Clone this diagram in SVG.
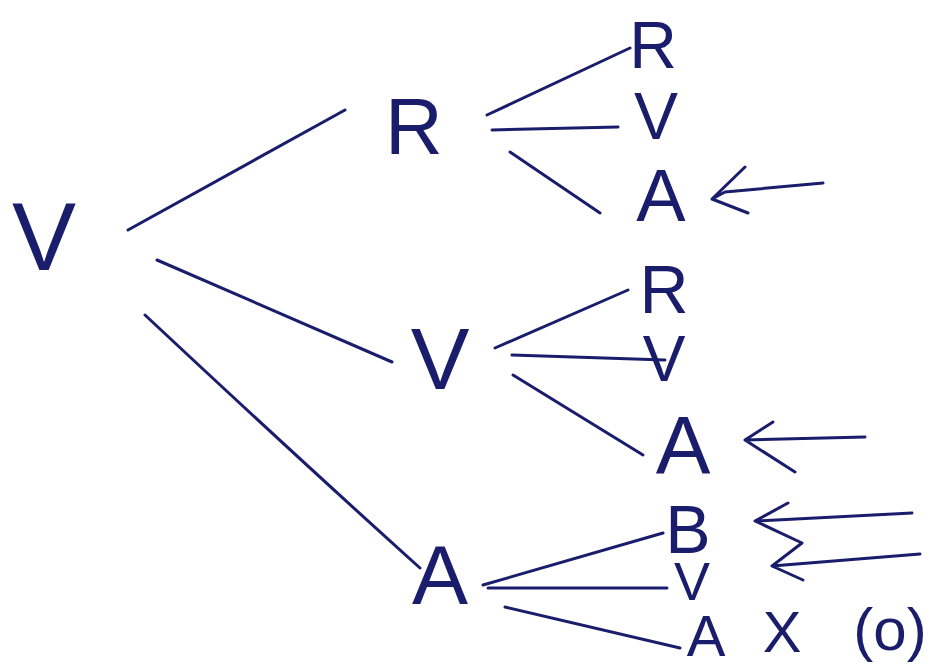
<svg xmlns="http://www.w3.org/2000/svg" width="939" height="669" viewBox="0 0 939 669">
<style>
.t{font-family:"Liberation Sans","DejaVu Sans",sans-serif;fill:#1a1d6b;text-anchor:middle;font-weight:normal}
.c{stroke:#1a1d6b;stroke-width:3;fill:none;stroke-linecap:round;stroke-linejoin:round}
</style>
<rect width="939" height="669" fill="#ffffff"/>
<g id="connectors">
<path class="c" d="M128,230 L345,110"/>
<path class="c" d="M157,260 L392,362"/>
<path class="c" d="M145,315 Q300,460 420,568"/>
<path class="c" d="M487,115 L630,48"/>
<path class="c" d="M492,130 L618,127"/>
<path class="c" d="M510,152 L600,213"/>
<path class="c" d="M495,348 L628,290"/>
<path class="c" d="M512,355 L665,360"/>
<path class="c" d="M513,375 L643,455"/>
<path class="c" d="M483,585 L663,533"/>
<path class="c" d="M488,588 L667,588"/>
<path class="c" d="M505,607 L680,648"/>
<path class="c" d="M823,183 L725,192 L712,199 M745,167 L712,199 L748,213"/>
<path class="c" d="M865,437 L745,440 M773,422 L745,440 L795,472"/>
<path class="c" d="M912,513 L755,521 M788,503 L755,521 L802,543 L772,566 L803,580 M772,566 L920,554"/>
</g>
<g id="n-root"><text class="t" x="44" y="270" font-size="96">V</text></g>
<g id="n-r1"><text class="t" x="414" y="154" font-size="80">R</text></g>
<g id="n-v1"><text class="t" x="440" y="389" font-size="88">V</text></g>
<g id="n-a1"><text class="t" x="440" y="604" font-size="84">A</text></g>
<g id="n-rr"><text class="t" x="653" y="68" font-size="66">R</text></g>
<g id="n-rv"><text class="t" x="656" y="139" font-size="66">V</text></g>
<g id="n-ra"><text class="t" x="661" y="221" font-size="74">A</text></g>
<g id="n-vr"><text class="t" x="664" y="313" font-size="68">R</text></g>
<g id="n-vv"><text class="t" x="664" y="381" font-size="64">V</text></g>
<g id="n-va"><text class="t" x="683" y="473" font-size="82">A</text></g>
<g id="n-ab"><text class="t" x="688" y="553" font-size="68">B</text></g>
<g id="n-av"><text class="t" x="692" y="600" font-size="54">V</text></g>
<g id="n-aa"><text class="t" x="706" y="656" font-size="58">A</text></g>
<g id="n-x"><text class="t" x="782" y="652" font-size="58">X</text></g>
<g id="n-o"><text class="t" x="890" y="650" font-size="60">(o)</text></g>
</svg>
